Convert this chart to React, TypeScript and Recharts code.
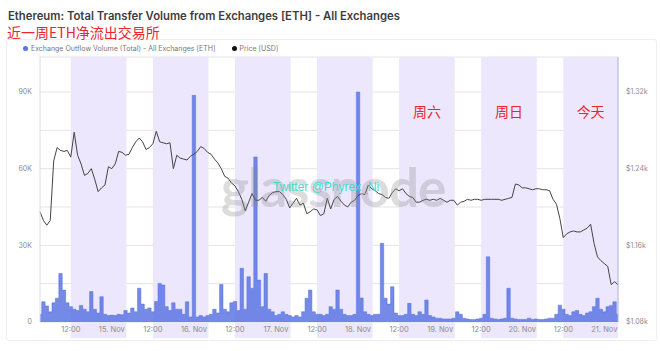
import React from 'react';
import { ComposedChart, Area, Line, XAxis, YAxis, CartesianGrid, ReferenceArea } from 'recharts';

// hours are counted from 15 Nov 00:00, first point is 14 Nov 03:00
const startHour = -21;

// ETH price, hourly (USD)
const priceUsd = [
  1195, 1186, 1181, 1186, 1248, 1262, 1259, 1258, 1259, 1252,
  1278, 1254, 1245, 1233, 1235, 1240, 1229, 1216, 1220, 1223, 1242, 1240,
  1245, 1258, 1257, 1254, 1255, 1262, 1268, 1272, 1268, 1260, 1262, 1266,
  1279, 1268, 1267, 1266, 1267, 1240, 1254, 1251, 1250, 1249, 1253, 1255,
  1258, 1263, 1261, 1257, 1255, 1250, 1246, 1240, 1232, 1230, 1225, 1222,
  1216, 1208, 1196, 1205, 1214, 1207, 1207, 1210, 1206, 1212, 1215, 1216,
  1216, 1213, 1208, 1199, 1204, 1209, 1202, 1204, 1193, 1195, 1198, 1197,
  1191, 1193, 1209, 1198, 1208, 1211, 1206, 1202, 1200, 1205, 1207, 1212,
  1214, 1213, 1223, 1219, 1217, 1214, 1213, 1210, 1209, 1215, 1219, 1217,
  1219, 1214, 1211, 1210, 1205, 1205, 1207, 1208, 1207, 1208, 1207, 1209,
  1207, 1205, 1207, 1207, 1202, 1205, 1206, 1208, 1207, 1208, 1208, 1207,
  1208, 1208, 1208, 1208, 1208, 1207, 1208, 1209, 1210, 1224, 1223, 1220,
  1220, 1219, 1218, 1219, 1219, 1218, 1218, 1217, 1208, 1203, 1188, 1168,
  1172, 1174, 1175, 1174, 1174, 1176, 1178, 1182, 1162, 1148, 1144, 1141,
  1138, 1119, 1122, 1119,
];

// exchange outflow volume, hourly (thousand ETH)
const outflowK = [
  3, 7.9, 6.3, 4, 7.5, 9.3, 19, 12.5, 7.5, 6,
  5, 4.5, 6.5, 5, 4, 11.9, 5, 3.5, 9.9, 3, 2.5, 2.7,
  2.5, 3, 2.8, 4.5, 3.5, 5.5, 4, 13.2, 7, 5, 5.5, 4,
  8, 15.1, 14.5, 6, 4.5, 7.5, 5, 5, 3, 7.9, 2, 88.7,
  2, 2.5, 2, 2.5, 3, 5, 3.5, 14.7, 5, 4, 7.5, 8,
  4.5, 21, 5, 17.7, 13.2, 64.6, 16.4, 6, 19, 5, 4, 2.5,
  3, 4, 3, 2.5, 2, 2.5, 2, 4, 9.3, 12.5, 4, 3,
  3, 2.5, 3, 6, 5, 12.5, 5, 3, 2.5, 2.5, 3, 90,
  9.4, 4, 3, 2.5, 3, 3, 30.8, 9.3, 7, 13.8, 3.5, 2.5,
  2.5, 3, 7.3, 3, 2.5, 4, 3, 8.6, 2.5, 2, 1.5, 1.5,
  1.2, 1.2, 1.2, 1.5, 4, 3, 1.5, 1.2, 1, 1, 1.2, 1.5,
  3, 25.5, 1.5, 1.2, 1, 1.2, 1.5, 13.2, 1.5, 1.2, 1, 1,
  1, 1.5, 1, 1.2, 1, 1, 1.2, 1.5, 1.5, 3, 6.6, 5,
  3, 2.5, 4, 4.5, 3, 2.5, 3.5, 4, 6, 9.3, 5, 4,
  6, 6.5, 7.9, 3,
];

const xTicks = [-12, 0, 12, 24, 36, 48, 60, 72, 84, 96, 108, 120, 132, 144];
const volTicks = [0, 15000, 30000, 45000, 60000, 75000, 90000];
const priceTicks = [1080, 1160, 1240, 1320];

// shaded periods (hours) and their notes
const bandStarts = [-12, 12, 36, 60, 84, 108, 132];
const bandEnds = [4.25, 28.25, 52.25, 76.25, 100.25, 124.25, 148];
const bandNotes = ['', '', '', '', '周六', '周日', '今天'];

const volColor = '#5570e0';
const priceColor = '#444';
const bandColor = '#ece7fc';
const noteRed = '#e8262d';
const tickGray = '#8c8c8c';

const chartData = priceUsd.map((p, i) => ({
  t: startHour + i,
  price: p,
  outflow: outflowK[i] * 1000,
}));

const formatX = (v: number) => (v % 24 === 0 ? `${15 + v / 24}. Nov` : '12:00');
const formatVol = (v: number) => (v === 0 ? '0' : v % 30000 === 0 ? `${v / 1000}K` : '');
const formatPrice = (v: number) => `$${(v / 1000).toFixed(2)}k`;

// band reaches a bit below the plot, under the date labels
const BandShape = (props: any) => (
  <rect x={props.x} y={props.y} width={props.width} height={props.height + 16} fill={bandColor} />
);

export default function App() {
  return (
    <div style={{ position: 'absolute', left: 0, top: 0, width: 660, height: 351, background: '#fff', overflow: 'hidden', fontFamily: 'Inter, sans-serif' }}>
      <div style={{ position: 'absolute', left: 6, top: 39, width: 649, height: 300, border: '1px solid #efefef', borderRadius: 3 }} />
      <div style={{ position: 'absolute', left: 8, top: 10, fontSize: 11.3, lineHeight: '12px', fontWeight: 600, color: '#3d3d3d', whiteSpace: 'nowrap' }}>
        Ethereum: Total Transfer Volume from Exchanges [ETH] - All Exchanges
      </div>
      <div style={{ position: 'absolute', left: 7, top: 25, fontSize: 14, lineHeight: '14px', color: noteRed, fontFamily: '"Noto Sans CJK SC", sans-serif', whiteSpace: 'nowrap' }}>
        近一周ETH净流出交易所
      </div>
      <div style={{ position: 'absolute', left: 23, top: 44, fontSize: 7, color: '#777', whiteSpace: 'nowrap', display: 'flex', alignItems: 'center' }}>
        <span style={{ width: 5, height: 5, borderRadius: 3, background: '#5a74e2', marginRight: 3 }} />
        <span>Exchange Outflow Volume (Total) - All Exchanges [ETH]</span>
        <span style={{ width: 5, height: 5, borderRadius: 3, background: '#111', marginLeft: 16, marginRight: 3 }} />
        <span>Price [USD]</span>
      </div>

      <div style={{ position: 'absolute', left: 0, top: 0 }}>
        <ComposedChart width={660} height={351} data={chartData} margin={{ top: 57, right: 2, left: 10, bottom: 9 }}>
          {bandStarts.map((s, i) => (
            <ReferenceArea
              key={s}
              x1={s}
              x2={bandEnds[i]}
              yAxisId="vol"
              ifOverflow="visible"
              shape={BandShape}
              label={bandNotes[i] ? { value: bandNotes[i], position: 'insideTop', offset: 50, fill: noteRed, fontSize: 14, fontFamily: '"Noto Sans CJK SC", sans-serif' } : undefined}
            />
          ))}
          <CartesianGrid yAxisId="vol" vertical={false} stroke="#e4e4e8" />
          <XAxis
            dataKey="t"
            type="number"
            domain={[-21, 148]}
            ticks={xTicks}
            tickFormatter={formatX}
            axisLine={false}
            tickLine={false}
            tickSize={0}
            tickMargin={5}
            height={20}
            tick={{ fill: tickGray, fontSize: 7.5 }}
            interval={0}
          />
          <YAxis
            yAxisId="vol"
            orientation="left"
            width={30}
            domain={[0, 103700]}
            ticks={volTicks}
            tickFormatter={formatVol}
            axisLine={{ stroke: '#d6daee' }}
            tickLine={false}
            tick={{ fill: tickGray, fontSize: 7 }}
            interval={0}
          />
          <YAxis
            yAxisId="price"
            orientation="right"
            width={40}
            domain={[1080, 1356.5]}
            ticks={priceTicks}
            tickFormatter={formatPrice}
            axisLine={{ stroke: '#a8b0de' }}
            tickLine={false}
            tick={{ fill: tickGray, fontSize: 7, textAnchor: 'start' }}
            interval={0}
          />
          <Area
            yAxisId="vol"
            dataKey="outflow"
            type="step"
            stroke={volColor}
            strokeWidth={0.5}
            fill={volColor}
            fillOpacity={0.82}
            dot={false}
            activeDot={false}
            isAnimationActive={false}
          />
          <Line
            yAxisId="price"
            dataKey="price"
            type="linear"
            stroke={priceColor}
            strokeWidth={1}
            dot={false}
            activeDot={false}
            isAnimationActive={false}
          />
        </ComposedChart>
      </div>

      <div style={{ position: 'absolute', left: 221, top: 155, fontSize: 53, fontWeight: 700, color: 'rgba(140,140,140,0.3)', fontFamily: 'Lato, sans-serif', letterSpacing: -1, pointerEvents: 'none', whiteSpace: 'nowrap' }}>
        glassnode
      </div>
      <div style={{ position: 'absolute', left: 273, top: 180, fontSize: 12, color: '#3fdccd', pointerEvents: 'none', whiteSpace: 'nowrap', fontFamily: 'Arial, "Liberation Sans", sans-serif' }}>
        Twitter @Phyrex_Ni
      </div>
    </div>
  );
}
